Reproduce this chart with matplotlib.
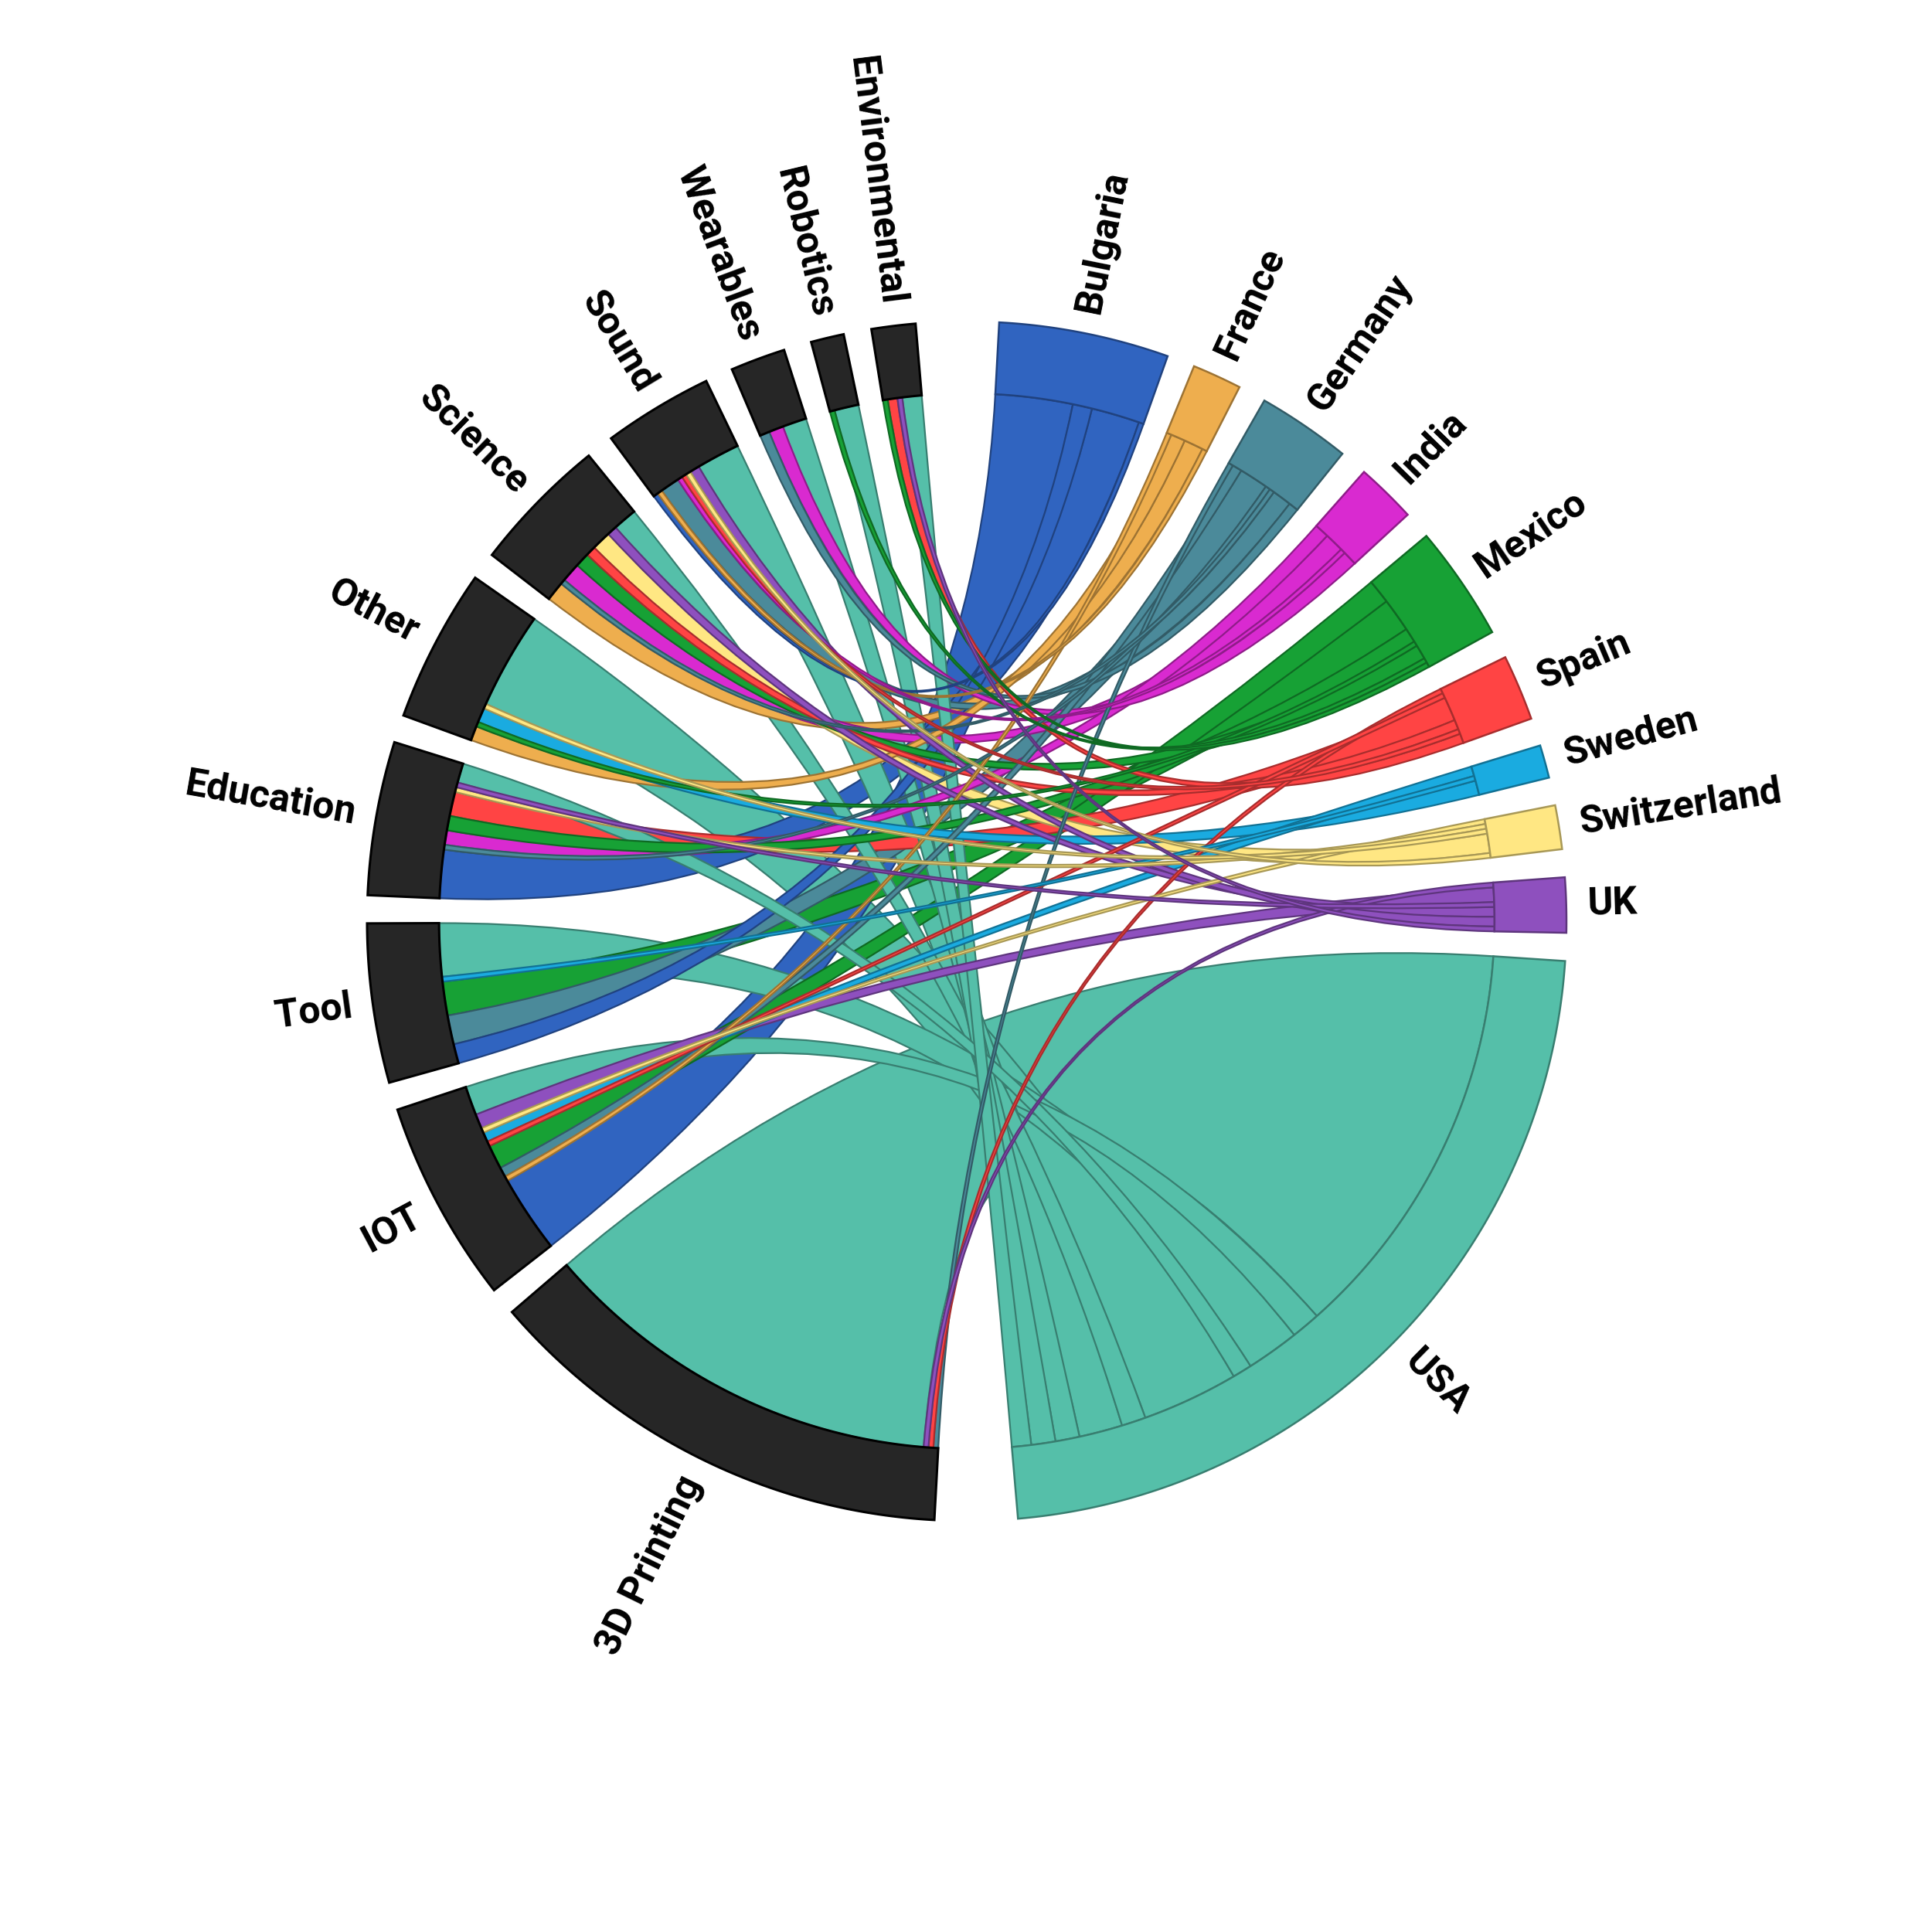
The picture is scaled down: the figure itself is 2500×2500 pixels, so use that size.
import numpy as np
import matplotlib.pyplot as plt
from matplotlib.path import Path
from matplotlib.patches import PathPatch
import matplotlib.colors as mcolors

plt.rcParams['font.family'] = ['Roboto', 'DejaVu Sans']

# categories in drawing order (clockwise from the bottom gap)
categories = ['3D Printing', 'IOT', 'Tool', 'Education', 'Other', 'Science',
              'Sound', 'Wearables', 'Robotics', 'Environmental']
countries = ['Bulgaria', 'France', 'Germany', 'India', 'Mexico', 'Spain',
             'Sweden', 'Switzerland', 'UK', 'USA']

# projects per country, one value per category (same order as categories)
bulgaria = [0, 16, 4, 10, 0, 0, 1, 0, 0, 0]
france = [0, 1, 0, 0, 3, 4, 1, 0, 0, 0]
germany = [1, 2, 6, 1, 0, 1, 4, 2, 0, 0]
india = [0, 0, 0, 3, 0, 4, 1, 3, 0, 0]
mexico = [0, 5, 7, 3, 1, 3, 0, 0, 1, 1]
spain = [1, 1, 0, 5, 0, 2, 1, 0, 0, 2]
sweden = [0, 2, 1, 0, 3, 0, 0, 0, 0, 0]
switzerland = [0, 1, 0, 1, 1, 4, 1, 0, 0, 0]
uk = [1, 3, 0, 1, 0, 2, 2, 0, 0, 1]
usa = [84, 6, 11, 4, 20, 5, 9, 5, 5, 4]

country_colors = ['#3064c0', '#eeae4e', '#4b8a9a', '#d92ad0', '#17a135',
                  '#ff4444', '#1aabe0', '#ffe783', '#8e50be', '#55bfa9']
band_color = '#262626'

flows = np.array([bulgaria, france, germany, india, mexico, spain,
                  sweden, switzerland, uk, usa], dtype=float)


def darker(c, f=0.66):
    r, g, b = mcolors.to_rgb(c)
    return (r * f, g * f, b * f)


r_in = 0.88
r_out = 1.0
pad = np.radians(2.7)
big_gap = np.radians(8.0)
rot = np.radians(0.9)

total = flows.sum()
k = (np.pi - big_gap - 9 * pad) / total

# node spans, angles decrease = clockwise
country_span = []
a = np.pi / 2 - big_gap / 2 + rot
for v in flows.sum(axis=1):
    country_span.append((a, a - v * k))
    a -= v * k + pad

cat_span = []
a = -np.pi / 2 - big_gap / 2 + rot
for v in flows.sum(axis=0):
    cat_span.append((a, a - v * k))
    a -= v * k + pad

# sub segments
seg_country = {}
for i in range(len(countries)):
    a = country_span[i][0]
    for j in range(len(categories)):
        seg_country[i, j] = (a, a - flows[i, j] * k)
        a -= flows[i, j] * k

seg_cat = {}
for j in range(len(categories)):
    a = cat_span[j][0]
    for i in range(len(countries)):
        seg_cat[i, j] = (a, a - flows[i, j] * k)
        a -= flows[i, j] * k


def arc_pts(a0, a1, r):
    n = max(3, int(abs(np.degrees(a1 - a0)) * 3))
    t = np.linspace(a0, a1, n)
    return np.column_stack([r * np.cos(t), r * np.sin(t)])


def ribbon(s, t):
    p1 = arc_pts(s[0], s[1], r_in)
    p2 = arc_pts(t[0], t[1], r_in)
    verts = list(p1)
    codes = [Path.MOVETO] + [Path.LINETO] * (len(p1) - 1)
    verts += [(0, 0), p2[0]]
    codes += [Path.CURVE3, Path.CURVE3]
    verts += list(p2[1:])
    codes += [Path.LINETO] * (len(p2) - 1)
    verts += [(0, 0), p1[0], p1[0]]
    codes += [Path.CURVE3, Path.CURVE3, Path.CLOSEPOLY]
    return Path(verts, codes)


def band(a0, a1):
    outer = arc_pts(a0, a1, r_out)
    inner = arc_pts(a1, a0, r_in)
    verts = np.vstack([outer, inner, outer[:1]])
    codes = [Path.MOVETO] + [Path.LINETO] * (len(verts) - 2) + [Path.CLOSEPOLY]
    return Path(verts, codes)


fig = plt.figure(figsize=(25, 25), dpi=100)
ax = fig.add_axes([0, 0, 1, 1])
cx, cy, scale = 1251, 1192, 776.0
ax.set_xlim(-cx / scale, (2500 - cx) / scale)
ax.set_ylim(-(2500 - cy) / scale, cy / scale)
ax.set_aspect('equal')
ax.axis('off')

# ribbons, biggest first so the small ones sit on top
pairs = [(i, j) for i in range(len(countries)) for j in range(len(categories))
         if flows[i, j] > 0]
pairs.sort(key=lambda p: -flows[p])
for i, j in pairs:
    col = country_colors[i]
    ax.add_patch(PathPatch(ribbon(seg_country[i, j], seg_cat[i, j]),
                           facecolor=col, edgecolor=darker(col), lw=1.6))

for i, name in enumerate(countries):
    col = country_colors[i]
    ax.add_patch(PathPatch(band(*country_span[i]), facecolor=col,
                           edgecolor=darker(col), lw=1.8))
for j, name in enumerate(categories):
    ax.add_patch(PathPatch(band(*cat_span[j]), facecolor=band_color,
                           edgecolor='black', lw=2.2))

# labels
nodes = [(n, s) for n, s in zip(countries, country_span)] + \
        [(n, s) for n, s in zip(categories, cat_span)]
for name, (a0, a1) in nodes:
    m = (a0 + a1) / 2
    x, y = 1.035 * np.cos(m), 1.035 * np.sin(m)
    deg = np.degrees(m)
    if np.cos(m) >= 0:
        ax.text(x, y, name, rotation=deg, rotation_mode='anchor',
                ha='left', va='center', fontsize=36, fontweight='bold')
    else:
        ax.text(x, y, name, rotation=deg - 180, rotation_mode='anchor',
                ha='right', va='center', fontsize=36, fontweight='bold')

fig.savefig('out.png', dpi=100, facecolor='white')
